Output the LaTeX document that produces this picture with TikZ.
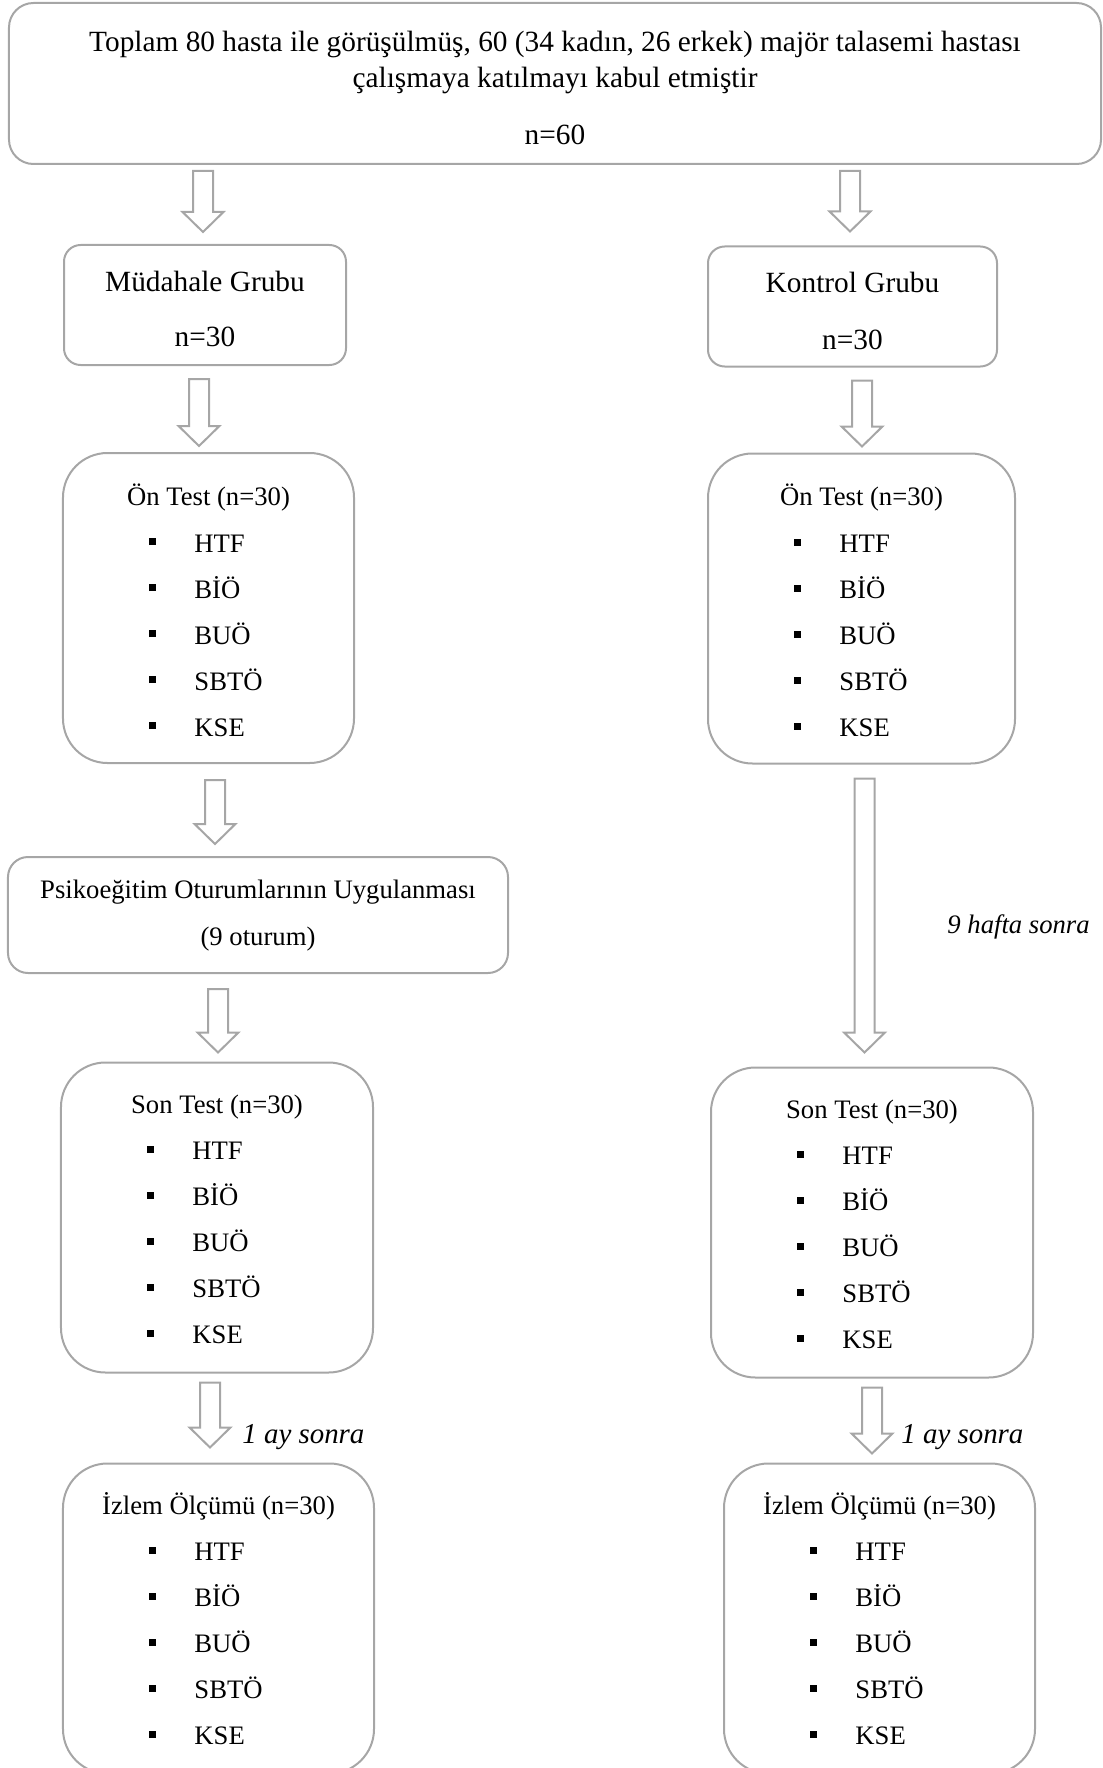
\documentclass[tikz,border=0pt]{standalone}
\usepackage{fontspec}
\setmainfont{Liberation Serif}
\usepackage{tikz}
\usetikzlibrary{calc}
\usetikzlibrary{positioning}

\definecolor{cizgi}{HTML}{A6A6A6}
\newcommand{\kare}{\llap{\raisebox{3.15pt}{\rule{3.15pt}{3.15pt}}\hspace{17.1pt}}}
\newcommand{\olcekler}[2][52]{%
  \foreach \ad [count=\i] in {HTF,BİÖ,BUÖ,SBTÖ,KSE}
    \node[madde] (#2-\i) at ($(#2.north west)+(132,#1+46*\i)$) {\kare\ad};}

\begin{document}
\begin{tikzpicture}[x=0.45pt,y=-0.45pt,
  kutu/.style={rectangle,draw=cizgi,line width=0.9pt,inner sep=0pt},
  grup/.style={kutu,rounded corners=7.5pt,minimum height=54pt},
  liste/.style={kutu,rounded corners=20pt,minimum height=139.5pt},
  yazi/.style={inner sep=0pt,anchor=base,font=\fontsize{12}{14}\selectfont},
  buyuk/.style={yazi,font=\fontsize{13.2}{15}\selectfont},
  madde/.style={yazi,anchor=base west},
  sure/.style={yazi,anchor=base west,font=\fontsize{12}{14}\selectfont\itshape},
  blokok/.style={draw=cizgi,line width=0.9pt,fill=white,
    to path={let \p1=(\tikztostart), \p2=(\tikztotarget) in
      (\x1-4.5pt,\y1) -- (\x1+4.5pt,\y1) -- (\x1+4.5pt,\y2+9pt) -- (\x1+9.2pt,\y2+9pt)
      -- (\x1,\y2) -- (\x1-9.2pt,\y2+9pt) -- (\x1-4.5pt,\y2+9pt) -- cycle}}]

  \useasboundingbox (0,0) rectangle (1103,1768);
  \clip (0,0) rectangle (1103,1768);

  % boxes
  \node[kutu,rounded corners=11pt,minimum width=491.4pt,minimum height=72.45pt] (top) at (555,83.5) {};
  \node[grup,minimum width=126.9pt] (mg) at (205,305) {};
  \node[grup,minimum width=130.05pt] (kg) at (852.5,306.5) {};
  \node[liste,minimum width=130.95pt] (onL) at (208.5,608) {};
  \node[liste,minimum width=138.15pt] (onR) at (861.5,608.5) {};
  \node[kutu,rounded corners=9pt,minimum width=225pt,minimum height=52.2pt] (psiko) at (258,915) {};
  \node[liste,minimum width=140.4pt] (sonL) at (217,1217.5) {};
  \node[liste,minimum width=144.9pt] (sonR) at (872,1222.5) {};
  \node[liste,minimum width=139.95pt] (izL) at (218.5,1618.5) {};
  \node[liste,minimum width=139.95pt] (izR) at (879.5,1618.5) {};

  % texts
  \node[buyuk] (top-1) at ($(top.north)+(0,50)$) {Toplam 80 hasta ile görüşülmüş, 60 (34 kadın, 26 erkek) majör talasemi hastası};
  \node[buyuk] (top-2) at ($(top.north)+(0,86)$) {çalışmaya katılmayı kabul etmiştir};
  \node[buyuk] (top-3) at ($(top.north)+(0,143)$) {n=60};

  \node[buyuk] (mg-1) at ($(mg.north)+(0,47.5)$) {Müdahale Grubu};
  \node[buyuk] (mg-2) at ($(mg.north)+(0,103)$) {n=30};
  \node[buyuk] (kg-1) at ($(kg.north)+(0,46.5)$) {Kontrol Grubu};
  \node[buyuk] (kg-2) at ($(kg.north)+(0,104)$) {n=30};

  \node[yazi] (onL-0) at ($(onL.north)+(0,53.5)$) {Ön Test (n=30)};
  \olcekler[54]{onL}
  \node[yazi] (onR-0) at ($(onR.north)+(0,53)$) {Ön Test (n=30)};
  \olcekler[54]{onR}

  \node[yazi] (psiko-1) at ($(psiko.north)+(0,42.5)$) {Psikoeğitim Oturumlarının Uygulanması};
  \node[yazi] (psiko-2) at ($(psiko.north)+(0,89.5)$) {(9 oturum)};

  \node[yazi] (sonL-0) at ($(sonL.north)+(0,51.5)$) {Son Test (n=30)};
  \olcekler{sonL}
  \node[yazi] (sonR-0) at ($(sonR.north)+(0,51.5)$) {Son Test (n=30)};
  \olcekler{sonR}

  \node[yazi] (izL-0) at ($(izL.north)+(0,51.5)$) {İzlem Ölçümü (n=30)};
  \olcekler{izL}
  \node[yazi] (izR-0) at ($(izR.north)+(0,51.5)$) {İzlem Ölçümü (n=30)};
  \olcekler{izR}

  % arrows
  \draw[blokok] ($(top.south -| mg.north)+(-2,6)$) to ($(mg.north)+(0,-12)$);
  \draw[blokok] ($(top.south -| kg.north)+(-2.5,6)$) to ($(kg.north)+(0,-14)$);
  \draw[blokok] ($(mg.south)+(-6,13)$) to ($(onL.north)+(0,-6)$);
  \draw[blokok] ($(kg.south)+(9.5,13)$) to ($(onR.north)+(0,-6)$);
  \draw[blokok] ($(onL.south)+(6.5,16)$) to ($(psiko.north)+(0,-12)$);
  \draw[blokok] ($(psiko.south -| sonL.north)+(1,15)$) to ($(sonL.north)+(0,-9)$);
  \draw[blokok] ($(onR.south)+(3,14)$) to ($(sonR.north)+(0,-14)$);
  \draw[blokok] ($(sonL.south)+(-7,9)$) to ($(izL.north)+(0,-15)$);
  \draw[blokok] ($(sonR.south)+(0,9)$) to ($(izR.north)+(0,-9)$);

  \node[sure] (hafta) at (947,933) {9 hafta sonra};
  \node[sure,font=\fontsize{13}{15}\selectfont\itshape] (ay-sol) at (242,1443) {1 ay sonra};
  \node[sure,font=\fontsize{13}{15}\selectfont\itshape] (ay-sag) at (901,1443) {1 ay sonra};
\end{tikzpicture}
\end{document}
